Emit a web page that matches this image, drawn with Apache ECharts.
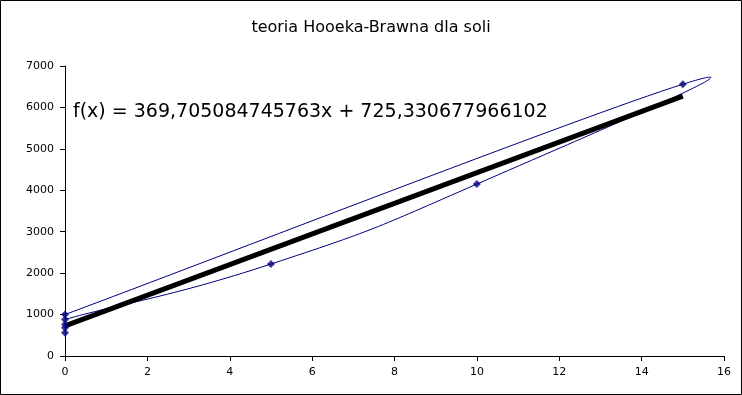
<!DOCTYPE html>
<html>
<head>
<meta charset="utf-8">
<title>teoria Hooeka-Brawna dla soli</title>
<script src="https://cdn.jsdelivr.net/npm/echarts@6/dist/echarts.min.js"></script>
<style>
  html, body { margin: 0; padding: 0; background: #fff; }
  #chart { width: 742px; height: 395px; }
</style>
</head>
<body>
<div id="chart"></div>
<script>
// pomiary (kolejnosc jak w arkuszu)
let xValues = [0, 15, 10, 5, 0, 0, 0, 0]
let yValues = [1000, 6560, 4150, 2220, 880, 760, 680, 560]

// linia trendu
let slope = 369.705084745763
let intercept = 725.330677966102
let trendRange = [0, 15]
let trendText = 'f(x) = 369,705084745763x + 725,330677966102'

let xTicks = { min: 0, max: 16, interval: 2 }
let yTicks = { min: 0, max: 7000, interval: 1000 }

let pointData = xValues.map((x, i) => [x, yValues[i]])
let trendData = trendRange.map(x => [x, slope * x + intercept])

// wygladzanie jak w arkuszu: catmull-rom liczony w pikselach
const tension = 4
function splineSegment(api, i) {
  const n = pointData.length
  const P = k => api.coord(pointData[Math.max(0, Math.min(n - 1, k))])
  const p0 = P(i - 1), p1 = P(i), p2 = P(i + 1), p3 = P(i + 2)
  const c1 = [0, 1].map(j => p1[j] + (p2[j] - p0[j]) / tension)
  const c2 = [0, 1].map(j => p2[j] - (p3[j] - p1[j]) / tension)
  return { p1, p2, c1, c2 }
}

const axisStyle = {
  axisLine: { show: true, onZero: false, lineStyle: { color: '#000', width: 1 } },
  axisTick: { show: true, length: 5, lineStyle: { color: '#000' } },
  axisLabel: {
    margin: 11,
    color: '#000',
    fontFamily: 'DejaVu Sans',
    fontSize: 11,
    formatter: v => String(v),
  },
  splitLine: { show: false },
}

const chart = echarts.init(document.getElementById('chart'))
const opt = {
  animation: false,
  backgroundColor: '#fff',
  title: {
    text: 'teoria Hooeka-Brawna dla soli',
    left: 'center',
    top: 15,
    textStyle: {
      fontFamily: 'DejaVu Sans',
      fontSize: 16,
      fontWeight: 'normal',
      color: '#000',
    },
  },
  grid: {
    left: 65,
    right: 18,
    top: 66,
    bottom: 39,
  },
  xAxis: Object.assign({
    type: 'value',
    min: xTicks.min,
    max: xTicks.max,
    interval: xTicks.interval,
  }, axisStyle),
  yAxis: Object.assign({
    type: 'value',
    min: yTicks.min,
    max: yTicks.max,
    interval: yTicks.interval,
  }, axisStyle),
  series: [
    {
      name: 'krzywa',
      type: 'custom',
      data: pointData,
      clip: true,
      renderItem(params, api) {
        if (params.dataIndex >= pointData.length - 1) return null
        const s = splineSegment(api, params.dataIndex)
        const cs = params.coordSys
        return {
          type: 'bezierCurve',
          shape: {
            x1: s.p1[0], y1: s.p1[1],
            x2: s.p2[0], y2: s.p2[1],
            cpx1: s.c1[0], cpy1: s.c1[1],
            cpx2: s.c2[0], cpy2: s.c2[1],
          },
          clipPath: {
            type: 'rect',
            shape: { x: cs.x, y: cs.y, width: cs.width, height: cs.height },
          },
          style: { stroke: '#000080', lineWidth: 1, fill: null },
        }
      },
      z: 2,
    },
    {
      name: 'trend',
      type: 'line',
      data: trendData,
      symbol: 'none',
      lineStyle: { color: '#000', width: 5 },
      z: 3,
    },
    {
      name: 'pomiary',
      type: 'scatter',
      data: pointData,
      symbol: 'diamond',
      symbolSize: 8,
      itemStyle: { color: '#000080' },
      z: 4,
    },
  ],
  graphic: [
    {
      type: 'text',
      left: 73,
      top: 103,
      style: {
        text: trendText,
        fontFamily: 'DejaVu Sans',
        fontSize: 19,
        fill: '#000',
      },
    },
    {
      // ramka wokol calego wykresu
      type: 'rect',
      shape: { x: 0.5, y: 0.5, width: 741, height: 394 },
      style: { fill: 'none', stroke: '#000', lineWidth: 1 },
      silent: true,
    },
  ],
}
chart.setOption(opt)
</script>
</body>
</html>
